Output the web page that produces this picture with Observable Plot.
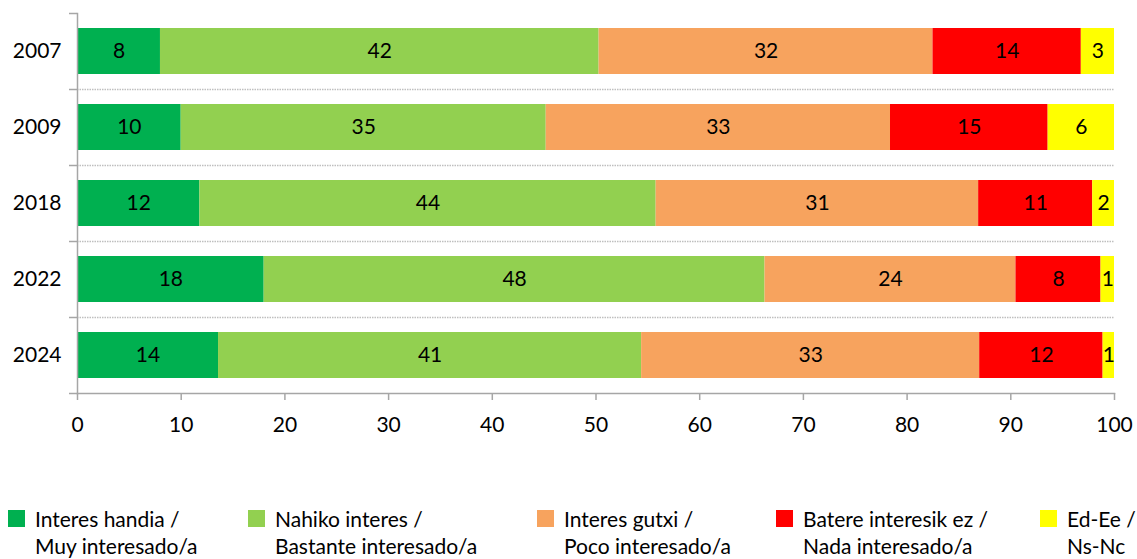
<!DOCTYPE html>
<html><head><meta charset="utf-8">
<script src="https://cdn.jsdelivr.net/npm/d3@7"></script>
<script src="https://cdn.jsdelivr.net/npm/@observablehq/plot@0.6"></script>
<style>
body{margin:0;background:#fff;font-family:Lato,sans-serif;}
#wrap{position:relative;width:1137px;height:559px;overflow:hidden;}
#legend{position:absolute;left:0;top:0;width:1137px;height:559px;pointer-events:none;}
.li{position:absolute;font-size:21px;line-height:27px;color:#000;}
.sw{position:absolute;width:17px;height:17px;}
.lt{position:absolute;white-space:nowrap;}
</style></head><body><div id="wrap"><div id="chart"></div><div id="legend"></div></div>
<script>
const years = ["2007", "2009", "2018", "2022", "2024"];
const categories = ["Interes handia", "Nahiko interes", "Interes gutxi", "Batere interesik ez", "Ed-Ee"];
const legendLines = [
  ["Interes handia /", "Muy interesado/a"],
  ["Nahiko interes /", "Bastante interesado/a"],
  ["Interes gutxi /", "Poco interesado/a"],
  ["Batere interesik ez /", "Nada interesado/a"],
  ["Ed-Ee /", "Ns-Nc"]
];
const colors = ["#00B050", "#92D050", "#F7A35E", "#FF0000", "#FFFF00"];
const v2007 = [8.0, 42.3, 32.2, 14.3, 3.2];
const v2009 = [10.0, 35.2, 33.2, 15.2, 6.4];
const v2018 = [11.8, 44.0, 31.1, 11.0, 2.1];
const v2022 = [18.0, 48.3, 24.2, 8.2, 1.3];
const v2024 = [13.6, 40.8, 32.6, 11.9, 1.1];
const xTicks = [0, 10, 20, 30, 40, 50, 60, 70, 80, 90, 100];

// layout (not data)
const legendX = [8, 248, 537, 776, 1040];
const legendTop = 505;

const series = [v2007, v2009, v2018, v2022, v2024];
const data = [];
years.forEach((y, i) => categories.forEach((c, j) => data.push({year: y, cat: c, value: series[i][j]})));

const FONT = "Lato, sans-serif";
const step = 76;
const chart = Plot.plot({
  width: 1137, height: 440,
  marginLeft: 77, marginRight: 23, marginTop: 13, marginBottom: 47,
  style: {fontFamily: FONT, fontSize: "21px", color: "#000", background: "transparent", overflow: "visible"},
  x: {domain: [0, 100]},
  y: {domain: years, paddingInner: 0.395, paddingOuter: 0.1975},
  color: {domain: categories, range: colors},
  marks: [
    Plot.ruleY(years.slice(1), {y: d => d, x1: 0, x2: 100, dy: -step / 2, stroke: "#BFBFBF", strokeWidth: 1.3, strokeDasharray: "1.5,1"}),
    Plot.barX(data, Plot.stackX({x: "value", y: "year", fill: "cat"})),
    Plot.text(data, Plot.stackX({x: "value", y: "year", z: "cat", text: d => String(Math.round(d.value)), fill: "#000", fontSize: 21, fontFamily: FONT})),
    Plot.frame({anchor: "left", stroke: "#A6A6A6", strokeWidth: 1.5}),
    Plot.frame({anchor: "bottom", stroke: "#A6A6A6", strokeWidth: 1.5}),
    Plot.ruleY(years, {y: d => d, x1: 0, x2: 0, insetLeft: -8, dy: -step / 2, stroke: "#A6A6A6", strokeWidth: 1.5}),
    Plot.ruleY(years.slice(-1), {y: d => d, x1: 0, x2: 0, insetLeft: -8, dy: step / 2, stroke: "#A6A6A6", strokeWidth: 1.5}),
    Plot.axisX({ticks: xTicks, tickSize: 7, tickPadding: 17, stroke: "#A6A6A6", strokeWidth: 1.5, label: null, fontSize: 21}),
    Plot.axisY({tickSize: 0, tickPadding: 16, label: null, fontSize: 21})
  ]
});
document.getElementById("chart").appendChild(chart);

const legend = document.getElementById("legend");
categories.forEach((c, i) => {
  const item = document.createElement("div");
  item.className = "li";
  item.style.left = legendX[i] + "px";
  item.style.top = legendTop + "px";
  const sw = document.createElement("div");
  sw.className = "sw";
  sw.style.left = "0px";
  sw.style.top = "5px";
  sw.style.background = colors[i];
  item.appendChild(sw);
  const t = document.createElement("div");
  t.className = "lt";
  t.style.left = "27px";
  t.style.top = "0px";
  t.innerHTML = legendLines[i].map(s => s.replace(/&/g, "&amp;").replace(/</g, "&lt;")).join("<br>");
  item.appendChild(t);
  legend.appendChild(item);
});
</script>
</body></html>
